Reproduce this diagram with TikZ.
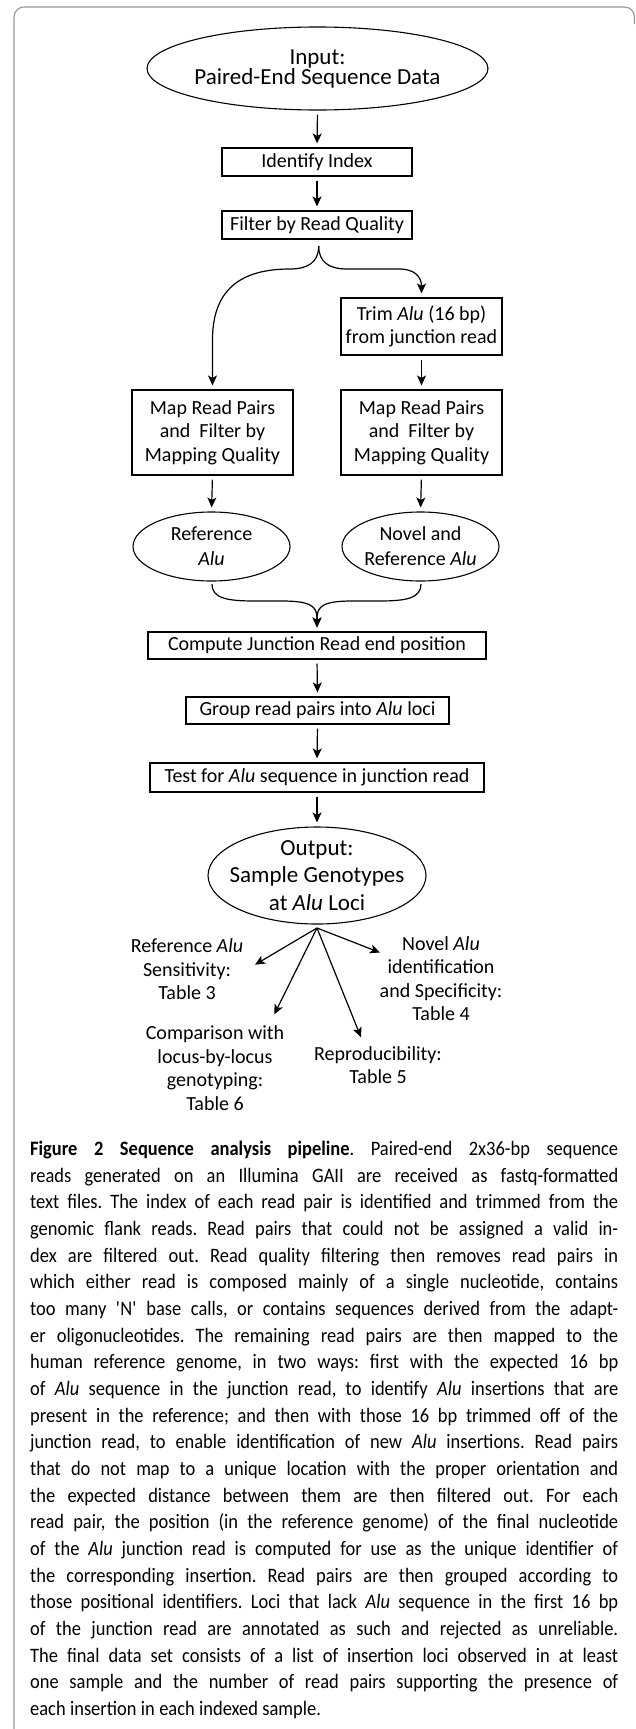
\documentclass[tikz,border=0pt]{standalone}
\usepackage{fontspec}
\setmainfont{Carlito}
\newfontfamily\capfont{Carlito}[FakeStretch=0.9]
\usetikzlibrary{arrows.meta,shapes.geometric}
\definecolor{framegray}{RGB}{150,150,150}
\newcommand{\capline}[1]{\hbox to 588pt{\spaceskip=0.2em plus 1fil minus 0.05em\xspaceskip=\spaceskip\relax #1}}
\newcommand{\capsetup}{\capfont\fontsize{20.5}{26.67}\selectfont\frenchspacing}
\begin{document}
\begin{tikzpicture}[x=1pt,y=-1pt,
  borderline/.style={draw=framegray, line width=1.1pt, rounded corners=10pt},
  box/.style={draw, line width=1.1pt, inner sep=0pt, align=center, font=\fontsize{20}{23.5}\selectfont},
  oval/.style={draw, ellipse, line width=1.1pt, inner sep=0pt},
  bigtxt/.style={inner sep=0pt, align=center},
  lbl/.style={inner sep=0pt, align=center, font=\fontsize{20}{23.5}\selectfont},
  arr/.style={-{Stealth[length=10pt,width=9pt,inset=2.5pt]}, line width=1.2pt, shorten <=4pt, shorten >=4pt},
  curvearr/.style={-{Stealth[length=10pt,width=9pt,inset=2.5pt]}, line width=1.2pt, shorten >=4pt}
]
\useasboundingbox (0,0) rectangle (635,1729);
\path[borderline] (14,1729) -- (14,7) -- (634.5,7) -- (634.5,24);

% nodes
\node[oval, minimum width=341pt, minimum height=83pt] (in) at (317.5,68.5) {};
\node[bigtxt, font=\fontsize{23}{18}\selectfont] (intxt) at (317.5,69) {Input:\\Paired-End Sequence Data};
\node[box, minimum width=190pt, minimum height=28pt] (id) at (317,162) {Identify Index};
\node[box, minimum width=190pt, minimum height=28pt] (fq) at (317,225) {Filter by Read Quality};
\node[box, minimum width=161pt, minimum height=57pt] (trim) at (421.5,326.5) {Trim \textit{Alu} (16 bp)\\from junction read};
\node[box, minimum width=161pt, minimum height=85pt] (mapL) at (212.5,432.5) {Map Read Pairs\\and\ \ Filter by\\Mapping Quality};
\node[box, minimum width=161pt, minimum height=85pt] (mapR) at (421.5,432.5) {Map Read Pairs\\and\ \ Filter by\\Mapping Quality};
\node[oval, minimum width=157pt, minimum height=69pt] (refL) at (211.5,546.5) {};
\node[lbl, font=\fontsize{20}{25}\selectfont] (refLt) at (211.5,546) {Reference\\\textit{Alu}};
\node[oval, minimum width=157pt, minimum height=69pt] (refR) at (420.5,546.5) {};
\node[lbl, font=\fontsize{20}{25}\selectfont] (refRt) at (420.5,546) {Novel and\\Reference \textit{Alu}};
\node[box, minimum width=338pt, minimum height=27pt] (comp) at (317,645.5) {Compute Junction Read end position};
\node[box, minimum width=263pt, minimum height=27pt] (grp) at (317.5,710.5) {Group read pairs into \textit{Alu} loci};
\node[box, minimum width=334pt, minimum height=29pt] (test) at (317,777.5) {Test for \textit{Alu} sequence in junction read};
\node[oval, minimum width=218pt, minimum height=97pt] (out) at (317,875.5) {};
\node[bigtxt, font=\fontsize{23}{27.5}\selectfont] (outt) at (317,875.5) {Output:\\Sample Genotypes\\at \textit{Alu} Loci};

\node[lbl] (l1) at (187,969.5) {Reference \textit{Alu}\\Sensitivity:\\Table 3};
\node[lbl] (l4) at (441,978.5) {Novel \textit{Alu}\\identification\\and Specificity:\\Table 4};
\node[lbl] (l2) at (215,1068) {Comparison with\\locus-by-locus\\genotyping:\\Table 6};
\node[lbl] (l3) at (378,1065) {Reproducibility:\\Table 5};

% straight arrows
\draw[arr] (in.south) -- (id.north);
\draw[arr] (id.south) -- (fq.north);
\draw[arr] (trim.south) -- (mapR.north);
\draw[arr] (mapL.south) -- (refL.north);
\draw[arr] (mapR.south) -- (refR.north);
\draw[arr] (comp.south) -- (grp.north);
\draw[arr] (grp.south) -- (test.north);
\draw[arr] (test.south) -- (out.north);

% split brace
\coordinate (bt) at (318.7,246);
\draw[curvearr] (bt) .. controls (318.7,262) and (329,269) .. (347,269) -- (399,269) .. controls (415,269) and (421.5,277) .. (trim.north);
\draw[curvearr] (bt) .. controls (318.7,262) and (308,269) .. (290,269) .. controls (240,269) and (212.5,290) .. (212.5,340) -- (mapL.north);

% merge brace
\coordinate (mL) at (212,584);
\coordinate (mR) at (421,584);
\draw[curvearr] (mL) .. controls (212,598) and (226,601) .. (255,601) -- (282,601) .. controls (310,601) and (317,606) .. (317,618) -- (comp.north);
\draw[curvearr] (mR) .. controls (421,598) and (407,601) .. (379,601) -- (352,601) .. controls (324,601) and (317,606) .. (317,618) -- (comp.north);

% output branches
\coordinate (bo) at (317,928);
\coordinate (t1) at (251.6,966.7);
\coordinate (t2) at (272.5,1018);
\coordinate (t3) at (362.5,1041);
\coordinate (t4) at (383.7,954);
\draw[curvearr] (bo) -- (t1);
\draw[curvearr] (bo) -- (t2);
\draw[curvearr] (bo) -- (t3);
\draw[curvearr] (bo) -- (t4);

% caption
\node[anchor=north west, inner sep=0pt, text width=588pt, align=left, font=\capsetup] (cap) at (30,1141) {%
\capline{\textbf{Figure 2 Sequence analysis pipeline}. Paired-end 2x36-bp sequence}
\capline{reads generated on an Illumina GAII are received as fastq-formatted}
\capline{text files. The index of each read pair is identified and trimmed from the}
\capline{genomic flank reads. Read pairs that could not be assigned a valid in-}
\capline{dex are filtered out. Read quality filtering then removes read pairs in}
\capline{which either read is composed mainly of a single nucleotide, contains}
\capline{too many \textquotesingle N\textquotesingle\ base calls, or contains sequences derived from the adapt-}
\capline{er oligonucleotides. The remaining read pairs are then mapped to the}
\capline{human reference genome, in two ways: first with the expected 16 bp}
\capline{of \textit{Alu} sequence in the junction read, to identify \textit{Alu} insertions that are}
\capline{present in the reference; and then with those 16 bp trimmed off of the}
\capline{junction read, to enable identification of new \textit{Alu} insertions. Read pairs}
\capline{that do not map to a unique location with the proper orientation and}
\capline{the expected distance between them are then filtered out. For each}
\capline{read pair, the position (in the reference genome) of the final nucleotide}
\capline{of the \textit{Alu} junction read is computed for use as the unique identifier of}
\capline{the corresponding insertion. Read pairs are then grouped according to}
\capline{those positional identifiers. Loci that lack \textit{Alu} sequence in the first 16 bp}
\capline{of the junction read are annotated as such and rejected as unreliable.}
\capline{The final data set consists of a list of insertion loci observed in at least}
\capline{one sample and the number of read pairs supporting the presence of}
\capline{each insertion in each indexed sample.\hskip 0pt plus 1000fil}};
\end{tikzpicture}
\end{document}
